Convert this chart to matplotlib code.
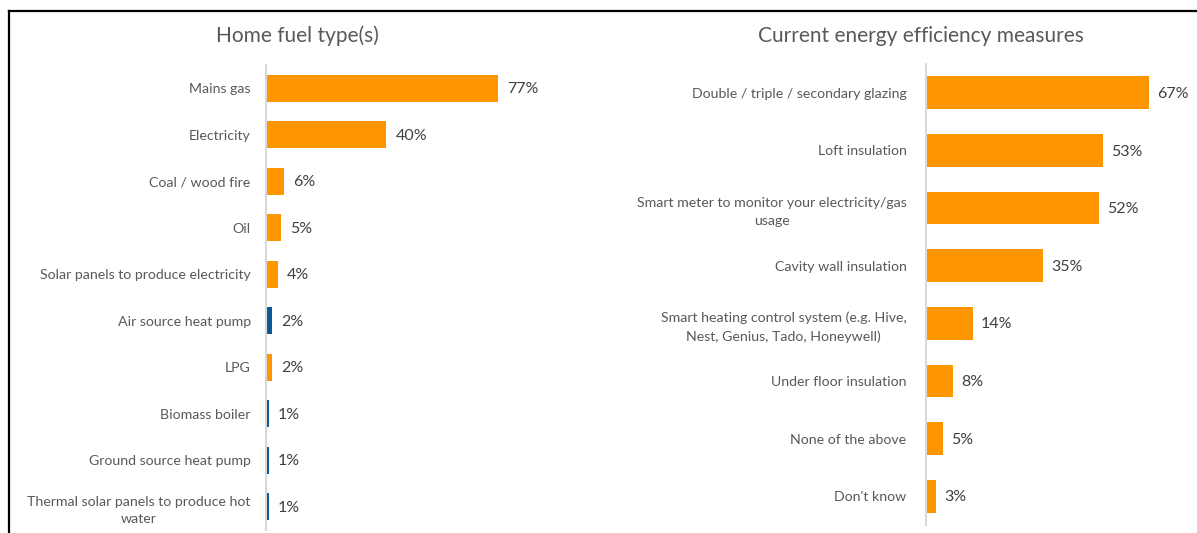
import matplotlib.pyplot as plt
from matplotlib.lines import Line2D

plt.rcParams['font.family'] = ['Lato', 'DejaVu Sans']

# Home fuel type(s)
fuel_labels = ["Mains gas", "Electricity", "Coal / wood fire", "Oil",
               "Solar panels to produce electricity", "Air source heat pump",
               "LPG", "Biomass boiler", "Ground source heat pump",
               "Thermal solar panels to produce hot\nwater"]
fuel_values = [77, 40, 6, 5, 4, 2, 2, 1, 1, 1]
fuel_groups = ["o", "o", "o", "o", "o", "b", "o", "b", "b", "b"]

# Current energy efficiency measures
eff_labels = ["Double / triple / secondary glazing", "Loft insulation",
              "Smart meter to monitor your electricity/gas\nusage",
              "Cavity wall insulation",
              "Smart heating control system (e.g. Hive,\nNest, Genius, Tado, Honeywell)",
              "Under floor insulation", "None of the above", "Don't know"]
eff_values = [67, 53, 52, 35, 14, 8, 5, 3]

orange = "#FF9600"
blue = "#0E5797"
grey = "#595959"
palette = {"o": orange, "b": blue}

W, H = 1197, 533
fig = plt.figure(figsize=(W / 100, H / 100), dpi=100)


def panel(rect, labels, values, colors, xmax, title, title_x, pad):
    ax = fig.add_axes(rect)
    y = range(len(values))
    ax.barh(y, values, height=0.57, color=colors)
    ax.set_ylim(len(values) - 0.5, -0.5)
    ax.set_xlim(0, xmax)
    ax.set_yticks(list(y))
    ax.set_yticklabels(labels, fontsize=10.2, color=grey, multialignment="center",
                       linespacing=1.55)
    ax.tick_params(axis="y", length=0, pad=pad)
    ax.set_xticks([])
    for s in ["top", "right", "bottom"]:
        ax.spines[s].set_visible(False)
    ax.spines["left"].set_color("#D9D9D9")
    ax.spines["left"].set_linewidth(1.5)
    for yi, v in zip(y, values):
        ax.text(v + xmax * 0.03, yi + 0.02, f"{v}%", va="center", ha="left",
                fontsize=11.5, color="#404040")
    fig.text(title_x / W, 1 - 36 / H, title, ha="center", va="center",
             fontsize=15, color=grey)
    return ax


panel([266 / W, 3 / H, 301 / W, 465 / H], fuel_labels, fuel_values,
      [palette[g] for g in fuel_groups], 100, "Home fuel type(s)", 297, 11)
panel([926 / W, 8 / H, 270 / W, 461 / H], eff_labels, eff_values,
      [orange] * len(eff_values), 81, "Current energy efficiency measures", 921, 14)

# frame lines (top and left)
fig.add_artist(Line2D([9 / W, 1], [1 - 11 / H, 1 - 11 / H], color="black", lw=1.6))
fig.add_artist(Line2D([9 / W, 9 / W], [0, 1 - 11 / H], color="black", lw=1.6))

fig.savefig("out.png", dpi=100)
